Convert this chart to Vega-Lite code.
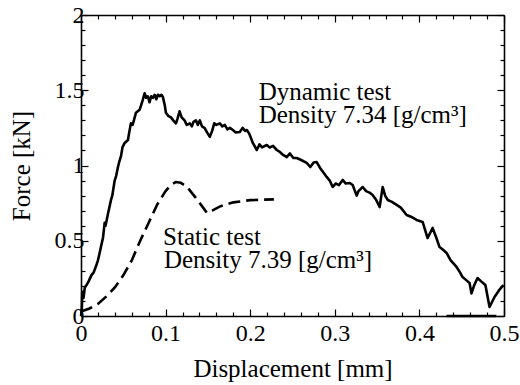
{
  "$schema": "https://vega.github.io/schema/vega-lite/v6.json",
  "width": 423,
  "height": 301,
  "autosize": {"type": "none"},
  "padding": {"left": 81, "top": 15, "right": 16, "bottom": 69},
  "background": "white",
  "config": {"view": {"stroke": null}, "font": "Liberation Serif, Times New Roman, serif"},
  "datasets": {
    "curves": [
      {"s":"dyn","x":0,"y":0},{"s":"dyn","x":0.001,"y":0.05},{"s":"dyn","x":0.0015,"y":0.16},{"s":"dyn","x":0.003,"y":0.12},{"s":"dyn","x":0.0045,"y":0.19},{"s":"dyn","x":0.007,"y":0.21},{"s":"dyn","x":0.009,"y":0.23},{"s":"dyn","x":0.0122,"y":0.27},{"s":"dyn","x":0.015,"y":0.29},{"s":"dyn","x":0.0177,"y":0.33},{"s":"dyn","x":0.02,"y":0.37},{"s":"dyn","x":0.0221,"y":0.42},{"s":"dyn","x":0.024,"y":0.47},{"s":"dyn","x":0.026,"y":0.52},{"s":"dyn","x":0.028,"y":0.62},{"s":"dyn","x":0.029,"y":0.6},{"s":"dyn","x":0.0319,"y":0.68},{"s":"dyn","x":0.0354,"y":0.77},{"s":"dyn","x":0.037,"y":0.8},{"s":"dyn","x":0.0398,"y":0.9},{"s":"dyn","x":0.0415,"y":0.93},{"s":"dyn","x":0.0437,"y":0.99},{"s":"dyn","x":0.045,"y":1.02},{"s":"dyn","x":0.0472,"y":1.06},{"s":"dyn","x":0.049,"y":1.12},{"s":"dyn","x":0.0516,"y":1.15},{"s":"dyn","x":0.0555,"y":1.17},{"s":"dyn","x":0.057,"y":1.22},{"s":"dyn","x":0.059,"y":1.28},{"s":"dyn","x":0.061,"y":1.27},{"s":"dyn","x":0.063,"y":1.31},{"s":"dyn","x":0.0649,"y":1.35},{"s":"dyn","x":0.0693,"y":1.37},{"s":"dyn","x":0.071,"y":1.4},{"s":"dyn","x":0.0732,"y":1.44},{"s":"dyn","x":0.0752,"y":1.48},{"s":"dyn","x":0.077,"y":1.45},{"s":"dyn","x":0.0791,"y":1.46},{"s":"dyn","x":0.081,"y":1.42},{"s":"dyn","x":0.083,"y":1.46},{"s":"dyn","x":0.085,"y":1.45},{"s":"dyn","x":0.087,"y":1.47},{"s":"dyn","x":0.089,"y":1.44},{"s":"dyn","x":0.0909,"y":1.47},{"s":"dyn","x":0.093,"y":1.46},{"s":"dyn","x":0.095,"y":1.47},{"s":"dyn","x":0.0968,"y":1.455},{"s":"dyn","x":0.099,"y":1.4},{"s":"dyn","x":0.1004,"y":1.35},{"s":"dyn","x":0.103,"y":1.33},{"s":"dyn","x":0.1063,"y":1.32},{"s":"dyn","x":0.109,"y":1.3},{"s":"dyn","x":0.1122,"y":1.28},{"s":"dyn","x":0.114,"y":1.31},{"s":"dyn","x":0.1165,"y":1.36},{"s":"dyn","x":0.119,"y":1.32},{"s":"dyn","x":0.1224,"y":1.3},{"s":"dyn","x":0.125,"y":1.27},{"s":"dyn","x":0.1287,"y":1.28},{"s":"dyn","x":0.131,"y":1.26},{"s":"dyn","x":0.133,"y":1.29},{"s":"dyn","x":0.1358,"y":1.3},{"s":"dyn","x":0.138,"y":1.27},{"s":"dyn","x":0.1405,"y":1.3},{"s":"dyn","x":0.143,"y":1.26},{"s":"dyn","x":0.146,"y":1.25},{"s":"dyn","x":0.149,"y":1.22},{"s":"dyn","x":0.1523,"y":1.19},{"s":"dyn","x":0.155,"y":1.23},{"s":"dyn","x":0.1575,"y":1.28},{"s":"dyn","x":0.16,"y":1.27},{"s":"dyn","x":0.1641,"y":1.28},{"s":"dyn","x":0.167,"y":1.26},{"s":"dyn","x":0.17,"y":1.27},{"s":"dyn","x":0.173,"y":1.24},{"s":"dyn","x":0.176,"y":1.25},{"s":"dyn","x":0.1795,"y":1.236},{"s":"dyn","x":0.183,"y":1.22},{"s":"dyn","x":0.1877,"y":1.223},{"s":"dyn","x":0.191,"y":1.25},{"s":"dyn","x":0.194,"y":1.23},{"s":"dyn","x":0.196,"y":1.236},{"s":"dyn","x":0.199,"y":1.21},{"s":"dyn","x":0.2031,"y":1.15},{"s":"dyn","x":0.2078,"y":1.103},{"s":"dyn","x":0.211,"y":1.14},{"s":"dyn","x":0.214,"y":1.12},{"s":"dyn","x":0.2196,"y":1.136},{"s":"dyn","x":0.223,"y":1.12},{"s":"dyn","x":0.227,"y":1.13},{"s":"dyn","x":0.2314,"y":1.103},{"s":"dyn","x":0.235,"y":1.09},{"s":"dyn","x":0.239,"y":1.07},{"s":"dyn","x":0.2432,"y":1.056},{"s":"dyn","x":0.247,"y":1.08},{"s":"dyn","x":0.251,"y":1.05},{"s":"dyn","x":0.255,"y":1.05},{"s":"dyn","x":0.259,"y":1.04},{"s":"dyn","x":0.2668,"y":1.017},{"s":"dyn","x":0.271,"y":0.99},{"s":"dyn","x":0.275,"y":1.02},{"s":"dyn","x":0.2786,"y":1.023},{"s":"dyn","x":0.283,"y":0.98},{"s":"dyn","x":0.287,"y":0.95},{"s":"dyn","x":0.2904,"y":0.924},{"s":"dyn","x":0.294,"y":0.9},{"s":"dyn","x":0.2975,"y":0.857},{"s":"dyn","x":0.301,"y":0.88},{"s":"dyn","x":0.305,"y":0.87},{"s":"dyn","x":0.3093,"y":0.904},{"s":"dyn","x":0.313,"y":0.88},{"s":"dyn","x":0.3176,"y":0.884},{"s":"dyn","x":0.3211,"y":0.87},{"s":"dyn","x":0.3259,"y":0.8},{"s":"dyn","x":0.328,"y":0.83},{"s":"dyn","x":0.333,"y":0.857},{"s":"dyn","x":0.337,"y":0.83},{"s":"dyn","x":0.341,"y":0.82},{"s":"dyn","x":0.3447,"y":0.804},{"s":"dyn","x":0.349,"y":0.77},{"s":"dyn","x":0.353,"y":0.724},{"s":"dyn","x":0.355,"y":0.8},{"s":"dyn","x":0.3566,"y":0.857},{"s":"dyn","x":0.3595,"y":0.8},{"s":"dyn","x":0.3625,"y":0.771},{"s":"dyn","x":0.367,"y":0.76},{"s":"dyn","x":0.3731,"y":0.738},{"s":"dyn","x":0.378,"y":0.72},{"s":"dyn","x":0.3849,"y":0.671},{"s":"dyn","x":0.39,"y":0.66},{"s":"dyn","x":0.3967,"y":0.638},{"s":"dyn","x":0.4038,"y":0.625},{"s":"dyn","x":0.4097,"y":0.518},{"s":"dyn","x":0.4156,"y":0.585},{"s":"dyn","x":0.42,"y":0.52},{"s":"dyn","x":0.4238,"y":0.458},{"s":"dyn","x":0.428,"y":0.44},{"s":"dyn","x":0.4321,"y":0.419},{"s":"dyn","x":0.437,"y":0.37},{"s":"dyn","x":0.4439,"y":0.326},{"s":"dyn","x":0.448,"y":0.29},{"s":"dyn","x":0.451,"y":0.259},{"s":"dyn","x":0.455,"y":0.24},{"s":"dyn","x":0.4593,"y":0.219},{"s":"dyn","x":0.4616,"y":0.15},{"s":"dyn","x":0.4645,"y":0.2},{"s":"dyn","x":0.4687,"y":0.252},{"s":"dyn","x":0.473,"y":0.23},{"s":"dyn","x":0.478,"y":0.206},{"s":"dyn","x":0.4829,"y":0.06},{"s":"dyn","x":0.4888,"y":0.126},{"s":"dyn","x":0.494,"y":0.17},{"s":"dyn","x":0.4994,"y":0.206},
      {"s":"tail","x":0.432,"y":0},{"s":"tail","x":0.491,"y":0},
      {"s":"static","x":0,"y":0.03},{"s":"static","x":0.01,"y":0.05},{"s":"static","x":0.02,"y":0.08},{"s":"static","x":0.03,"y":0.13},{"s":"static","x":0.04,"y":0.19},{"s":"static","x":0.05,"y":0.27},{"s":"static","x":0.06,"y":0.37},{"s":"static","x":0.07,"y":0.5},{"s":"static","x":0.08,"y":0.62},{"s":"static","x":0.09,"y":0.74},{"s":"static","x":0.1,"y":0.83},{"s":"static","x":0.106,"y":0.87},{"s":"static","x":0.112,"y":0.89},{"s":"static","x":0.118,"y":0.885},{"s":"static","x":0.125,"y":0.86},{"s":"static","x":0.135,"y":0.79},{"s":"static","x":0.143,"y":0.73},{"s":"static","x":0.149,"y":0.685},{"s":"static","x":0.155,"y":0.7},{"s":"static","x":0.165,"y":0.73},{"s":"static","x":0.18,"y":0.755},{"s":"static","x":0.2,"y":0.77},{"s":"static","x":0.228,"y":0.775}
    ],
    "notes": [
      {"x":0.21,"y":1.435,"t":"Dynamic test"},
      {"x":0.21,"y":1.282,"t":"Density 7.34 [g/cm³]"},
      {"x":0.097,"y":0.472,"t":"Static test"},
      {"x":0.098,"y":0.319,"t":"Density 7.39 [g/cm³]"}
    ]
  },
  "layer": [
    {
      "data": {"name": "curves"},
      "transform": [{"filter": "datum.s != 'static'"}],
      "mark": {"type": "line", "color": "black", "strokeWidth": 2.6, "strokeJoin": "round"},
      "encoding": {
        "x": {"field": "x", "type": "quantitative", "scale": {"domain": [0, 0.5], "nice": false},
          "axis": {"orient": "bottom", "values": [0,0.02,0.04,0.06,0.08,0.1,0.12,0.14,0.16,0.18,0.2,0.22,0.24,0.26,0.28,0.3,0.32,0.34,0.36,0.38,0.4,0.42,0.44,0.46,0.48,0.5],
            "labelExpr": "abs(datum.value*10 - round(datum.value*10)) < 0.001 ? format(datum.value, '~g') : ''",
            "tickSize": {"condition": {"test": "abs(datum.value*10 - round(datum.value*10)) < 0.001", "value": -7}, "value": -4},
            "tickColor": "black", "tickWidth": 1.2, "domainColor": "black", "domainWidth": 1.6, "grid": false,
            "labelFont": "Liberation Serif, Times New Roman, serif", "labelFontSize": 24, "labelColor": "black", "labelPadding": 12, "labelFlush": false, "labelOverlap": false, "labelBaseline": "top",
            "title": "Displacement [mm]", "titleFont": "Liberation Serif, Times New Roman, serif", "titleFontSize": 25, "titleFontWeight": "normal", "titleColor": "black", "titlePadding": 8}},
        "y": {"field": "y", "type": "quantitative", "scale": {"domain": [0, 2], "nice": false},
          "axis": {"orient": "left", "values": [0,0.1,0.2,0.3,0.4,0.5,0.6,0.7,0.8,0.9,1,1.1,1.2,1.3,1.4,1.5,1.6,1.7,1.8,1.9,2],
            "labelExpr": "abs(datum.value*2 - round(datum.value*2)) < 0.001 ? format(datum.value, '~g') : ''",
            "tickSize": {"condition": {"test": "abs(datum.value*2 - round(datum.value*2)) < 0.001", "value": -7}, "value": -4},
            "tickColor": "black", "tickWidth": 1.2, "domainColor": "black", "domainWidth": 1.6, "grid": false,
            "labelFont": "Liberation Serif, Times New Roman, serif", "labelFontSize": 24, "labelColor": "black", "labelPadding": 4, "labelFlush": false, "labelOverlap": false,
            "title": "Force [kN]", "titleFont": "Liberation Serif, Times New Roman, serif", "titleFontSize": 25, "titleFontWeight": "normal", "titleColor": "black", "titlePadding": 20}},
        "detail": {"field": "s"}
      }
    },
    {
      "data": {"name": "curves"},
      "transform": [{"filter": "datum.s == 'static'"}],
      "mark": {"type": "line", "color": "black", "strokeWidth": 2.6, "strokeDash": [12, 6]},
      "encoding": {
        "x": {"field": "x", "type": "quantitative",
          "axis": {"orient": "top", "values": [0,0.02,0.04,0.06,0.08,0.1,0.12,0.14,0.16,0.18,0.2,0.22,0.24,0.26,0.28,0.3,0.32,0.34,0.36,0.38,0.4,0.42,0.44,0.46,0.48,0.5],
            "labels": false, "title": null,
            "tickSize": {"condition": {"test": "abs(datum.value*10 - round(datum.value*10)) < 0.001", "value": -7}, "value": -4},
            "tickColor": "black", "tickWidth": 1.2, "domainColor": "black", "domainWidth": 1.6, "grid": false}},
        "y": {"field": "y", "type": "quantitative",
          "axis": {"orient": "right", "values": [0,0.1,0.2,0.3,0.4,0.5,0.6,0.7,0.8,0.9,1,1.1,1.2,1.3,1.4,1.5,1.6,1.7,1.8,1.9,2],
            "labels": false, "title": null,
            "tickSize": {"condition": {"test": "abs(datum.value*2 - round(datum.value*2)) < 0.001", "value": -7}, "value": -4},
            "tickColor": "black", "tickWidth": 1.2, "domainColor": "black", "domainWidth": 1.6, "grid": false}}
      }
    },
    {
      "data": {"name": "notes"},
      "mark": {"type": "text", "align": "left", "baseline": "alphabetic", "font": "Liberation Serif, Times New Roman, serif", "fontSize": 25, "color": "black"},
      "encoding": {
        "x": {"field": "x", "type": "quantitative", "axis": null},
        "y": {"field": "y", "type": "quantitative", "axis": null},
        "text": {"field": "t"}
      }
    }
  ],
  "resolve": {"axis": {"x": "independent", "y": "independent"}}
}
